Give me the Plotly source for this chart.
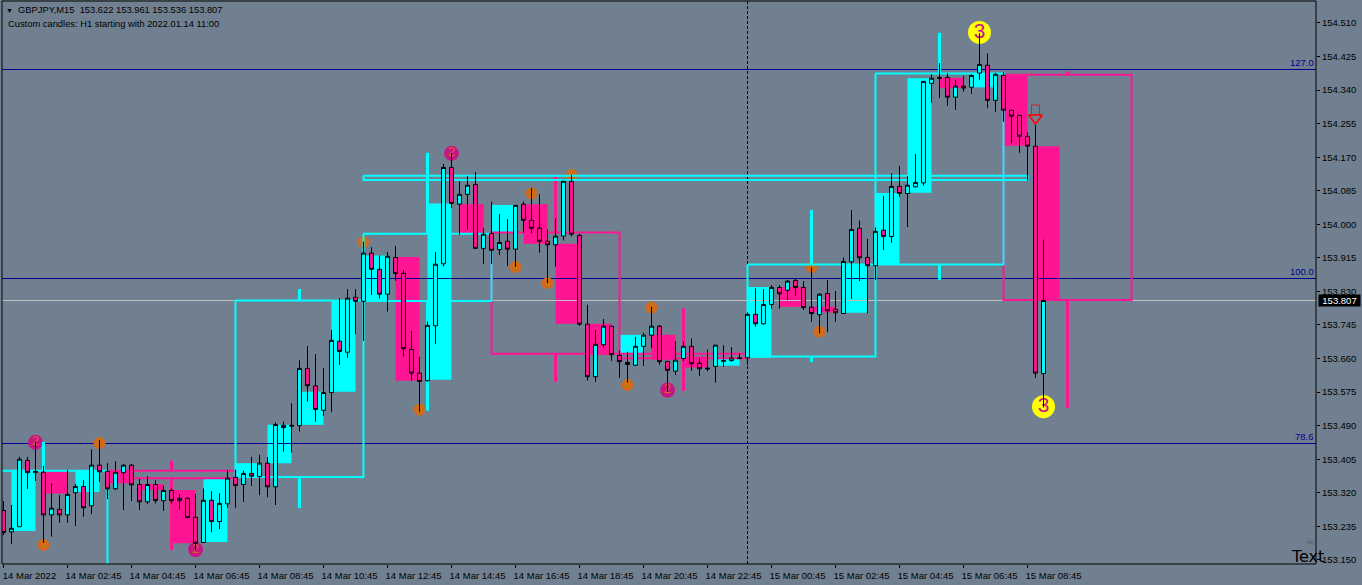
import plotly.graph_objects as go

# ---- M15 candles (GBPJPY) ----
bar_index = list(range(131))
opens = [153.275,153.221,153.234,153.402,153.374,153.372,153.264,153.278,153.264,153.320,153.336,153.287,153.390,153.374,153.330,153.371,153.390,153.341,153.297,153.341,
 153.300,153.326,153.300,153.306,153.258,153.194,153.301,153.247,153.292,153.359,153.341,153.369,153.361,153.395,153.335,153.491,153.491,153.490,153.635,153.591,
 153.529,153.574,153.704,153.676,153.815,153.805,153.927,153.886,153.823,153.916,153.876,153.683,153.623,153.604,153.743,153.900,154.144,154.051,154.076,154.101,
 153.939,153.977,153.936,153.957,153.937,154.051,154.010,153.990,153.957,153.948,153.970,154.109,153.972,153.747,153.614,153.695,153.742,153.668,153.650,153.643,
 153.691,153.719,153.742,153.653,153.628,153.660,153.691,153.648,153.636,153.640,153.655,153.655,153.662,153.662,153.772,153.748,153.797,153.840,153.833,153.858,
 153.840,153.790,153.771,153.825,153.785,153.774,153.905,153.990,153.916,153.895,153.985,153.969,154.096,154.078,154.095,154.105,154.357,154.372,154.372,154.322,
 154.350,154.347,154.383,154.403,154.314,154.377,154.289,154.276,154.223,154.198,153.622]
highs = [153.299,153.289,153.411,153.411,153.449,153.388,153.344,153.314,153.378,153.342,153.352,153.430,153.454,153.395,153.400,153.393,153.393,153.355,153.362,153.352,
 153.338,153.331,153.316,153.309,153.317,153.331,153.324,153.319,153.378,153.378,153.376,153.411,153.416,153.410,153.498,153.500,153.547,153.656,153.692,153.671,
 153.636,153.732,153.813,153.836,153.836,153.956,153.942,153.921,153.930,153.945,153.884,153.730,153.664,153.754,153.930,154.153,154.180,154.109,154.122,154.132,
 153.990,154.057,154.026,154.013,154.048,154.058,154.092,154.076,153.987,154.015,154.109,154.125,153.976,153.796,153.732,153.760,153.743,153.680,153.677,153.715,
 153.725,153.791,153.745,153.653,153.704,153.703,153.711,153.661,153.683,153.694,153.694,153.689,153.674,153.777,153.838,153.836,153.846,153.846,153.859,153.862,
 153.856,153.891,153.825,153.859,153.831,153.916,154.036,154.010,153.963,153.992,154.072,154.129,154.148,154.122,154.178,154.362,154.380,154.408,154.383,154.366,
 154.376,154.380,154.484,154.433,154.383,154.385,154.289,154.276,154.233,154.256,153.961]
lows = [153.213,153.190,153.234,153.330,153.350,153.193,153.209,153.244,153.244,153.236,153.259,153.266,153.348,153.304,153.328,153.276,153.299,153.276,153.292,153.293,
 153.274,153.292,153.278,153.257,153.175,153.194,153.220,153.228,153.282,153.282,153.297,153.337,153.314,153.309,153.289,153.424,153.422,153.475,153.551,153.500,
 153.515,153.525,153.644,153.662,153.722,153.705,153.821,153.812,153.779,153.857,153.665,153.604,153.525,153.601,153.697,153.893,154.041,153.973,153.987,153.938,
 153.899,153.899,153.922,153.894,153.892,153.979,153.978,153.928,153.851,153.893,153.959,153.969,153.743,153.604,153.601,153.687,153.654,153.611,153.599,153.641,
 153.641,153.687,153.644,153.576,153.618,153.654,153.629,153.616,153.628,153.599,153.639,153.652,153.659,153.644,153.741,153.746,153.786,153.786,153.808,153.818,
 153.783,153.753,153.724,153.727,153.753,153.774,153.811,153.856,153.775,153.859,153.935,153.953,154.070,153.993,154.093,154.098,154.308,154.320,154.300,154.290,
 154.336,154.330,154.366,154.295,154.285,154.260,154.205,154.181,154.111,153.611,153.536]
closes = [153.219,153.230,153.405,153.371,153.372,153.264,153.281,153.264,153.316,153.336,153.282,153.390,153.373,153.330,153.372,153.390,153.340,153.297,153.341,153.300,
 153.326,153.300,153.306,153.257,153.192,153.301,153.247,153.293,153.357,153.338,153.369,153.362,153.395,153.335,153.493,153.485,153.489,153.635,153.591,153.531,
 153.574,153.706,153.678,153.813,153.805,153.927,153.886,153.823,153.919,153.875,153.685,153.623,153.602,153.744,153.899,154.144,154.053,154.076,154.099,153.939,
 153.975,153.934,153.954,153.937,154.048,154.010,153.990,153.957,153.948,153.970,154.109,153.975,153.747,153.614,153.696,153.742,153.670,153.652,153.645,153.691,
 153.719,153.742,153.652,153.630,153.656,153.691,153.647,153.634,153.634,153.694,153.653,153.661,153.660,153.772,153.748,153.797,153.840,153.824,153.856,153.840,
 153.789,153.774,153.823,153.781,153.776,153.906,153.987,153.915,153.895,153.982,153.969,154.096,154.078,154.099,154.106,154.362,154.370,154.370,154.322,154.350,
 154.345,154.377,154.405,154.314,154.380,154.289,154.274,154.223,154.198,153.623,153.807]

# ---- H1 custom candle bodies ----
h1_center = [2.5,6.5,10.5,14.5,18.5,22.5,26.5,30.5,34.5,38.5,42.5,46.5,50.5,54.5,58.5,62.5,66.5,70.5,74.5,78.5,82.5,86.5,90.5,94.5,98.5,102.5,106.5,110.5,114.5,118.5,122.5,126.5,130.5]
h1_open = [153.223,153.373,153.322,153.377,153.342,153.327,153.195,153.358,153.395,153.492,153.576,153.804,153.917,153.606,154.051,153.980,154.051,153.951,153.748,153.672,153.720,153.665,153.642,153.662,153.841,153.791,153.776,153.897,154.080,154.371,154.347,154.381,154.198]
h1_close = [153.378,153.318,153.377,153.344,153.327,153.192,153.355,153.395,153.492,153.576,153.808,153.921,153.604,154.053,153.977,154.049,153.951,153.748,153.670,153.720,153.657,153.637,153.659,153.841,153.791,153.777,153.899,154.079,154.370,154.345,154.383,154.199,153.808]

# ---- H4 custom candles (outlined boxes with thick wicks), pink ones first so cyan lies on top ----
h4_start = [13,61,77,125,-3,29,45,93,109]
h4_end = [29,77,93,141,13,45,61,109,125]
h4_top = [153.376,153.979,153.672,154.379,153.376,153.807,153.976,153.898,154.382]
h4_bottom = [153.357,153.672,153.661,153.808,153.000,153.360,153.806,153.665,153.898]
h4_high = [153.401,154.120,153.787,154.387,153.449,153.836,154.181,154.036,154.485]
h4_low = [153.175,153.601,153.578,153.535,153.000,153.281,153.528,153.651,153.859]
h4_color = ["pink","pink","pink","pink","cyan","cyan","cyan","cyan","cyan"]

# narrow cyan box near 154.12
band_x = [45,128]
band_top = 154.123
band_bottom = 154.112

# ---- horizontal levels ----
level_names = ["127.0","100.0","78.6"]
level_values = [154.3921,153.8627,153.4448]
bid = 153.807
separator_index = 93

# ---- numbered swing markers ----
orange_x = [5,12,45,52,64,66,68,71,78,81,101,102]
orange_y = [153.188,153.446,153.955,153.530,153.892,154.078,153.851,154.125,153.593,153.789,153.892,153.728]
orange_t = ["1","1","0","0","0","1","0","0","0","1","0","1"]
magenta_x = [4,24,56,83]
magenta_y = [153.448,153.176,154.180,153.580]
yellow_x = [122,130]
yellow_y = [154.486,153.538]
arrow_x = [129]
arrow_head_y = [154.2692]
arrow_stem_top = 154.3022
arrow_stem_bottom = 154.2768

# ---- axis labels ----
x_tick_vals = [0,8,16,24,32,40,48,56,64,72,80,88,96,104,112,120,128]
x_tick_text = ["14 Mar 2022","14 Mar 02:45","14 Mar 04:45","14 Mar 06:45","14 Mar 08:45","14 Mar 10:45","14 Mar 12:45","14 Mar 14:45","14 Mar 16:45","14 Mar 18:45","14 Mar 20:45","14 Mar 22:45","15 Mar 00:45","15 Mar 02:45","15 Mar 04:45","15 Mar 06:45","15 Mar 08:45"]
y_tick_vals = [154.510,154.425,154.340,154.255,154.170,154.085,154.000,153.915,153.830,153.745,153.660,153.575,153.490,153.405,153.320,153.235,153.150]

BG = "#708090"
CYAN = "#00FFFF"
PINK = "#FF1493"
NAVY = "#00008B"
FONT = "Liberation Sans"
SIZE = 9.5
HEAD = 9.35
PLOT_W, PLOT_H = 1314.0, 563.0
X0, X1 = -0.1875, 164.0625
Y0, Y1 = 153.139573, 154.565612

fig = go.Figure()

# H1 bodies
fig.add_trace(go.Bar(
    x=h1_center, y=[c - o for o, c in zip(h1_open, h1_close)], base=h1_open, width=3,
    marker=dict(color=[CYAN if c >= o else PINK for o, c in zip(h1_open, h1_close)], line=dict(width=0)),
    hoverinfo="skip", zorder=0))

# levels
for v in level_values:
    fig.add_trace(go.Scatter(x=[X0, X1], y=[v, v], mode="lines", line=dict(color=NAVY, width=1), hoverinfo="skip", zorder=1))
fig.add_trace(go.Scatter(x=[X0, X1], y=[bid, bid], mode="lines", line=dict(color="#C0C0C0", width=1), hoverinfo="skip", zorder=1))
fig.add_trace(go.Scatter(x=[separator_index, separator_index], y=[Y0, Y1], mode="lines",
                         line=dict(color="black", width=1, dash="3px,2px"), hoverinfo="skip", zorder=1))

# markers
fig.add_trace(go.Scatter(x=orange_x, y=orange_y, mode="markers+text", text=orange_t, textposition="middle center",
                         marker=dict(color="#D2691E", size=12), textfont=dict(color="#B8860B", size=10, family=FONT), hoverinfo="skip", zorder=2))
fig.add_trace(go.Scatter(x=magenta_x, y=magenta_y, mode="markers+text", text=["2"] * len(magenta_x), textposition="middle center",
                         marker=dict(color="#C71585", size=15), textfont=dict(color="#D2691E", size=13, family=FONT), hoverinfo="skip", zorder=2))
fig.add_trace(go.Scatter(x=yellow_x, y=yellow_y, mode="markers+text", text=["3"] * len(yellow_x), textposition="middle center",
                         marker=dict(color="#FFFF00", size=23), textfont=dict(color="#C71585", size=21, family=FONT), hoverinfo="skip", zorder=2))

# H4 boxes
for s, e, t, b, hi, lo, col in zip(h4_start, h4_end, h4_top, h4_bottom, h4_high, h4_low, h4_color):
    c = CYAN if col == "cyan" else PINK
    fig.add_trace(go.Scatter(x=[s, e, e, s, s], y=[t, t, b, b, t], mode="lines", line=dict(color=c, width=2), hoverinfo="skip", zorder=3))
    m = (s + e) / 2
    fig.add_trace(go.Scatter(x=[m, m, None, m, m], y=[t, hi, None, b, lo], mode="lines", line=dict(color=c, width=3), hoverinfo="skip", zorder=3))
fig.add_trace(go.Scatter(x=[band_x[0], band_x[1], band_x[1], band_x[0], band_x[0]],
                         y=[band_top, band_top, band_bottom, band_bottom, band_top],
                         mode="lines", line=dict(color=CYAN, width=2), hoverinfo="skip", zorder=3))

# M15 candles
fig.add_trace(go.Candlestick(
    x=bar_index, open=opens, high=highs, low=lows, close=closes, whiskerwidth=0,
    increasing=dict(fillcolor=CYAN, line=dict(color="black", width=1)),
    decreasing=dict(fillcolor=PINK, line=dict(color="black", width=1)),
    hoverinfo="skip", zorder=4))

# red arrow
ax = arrow_x[0]
fig.add_trace(go.Scatter(x=[ax - 0.5, ax + 0.5, ax + 0.5, ax - 0.5, ax - 0.5],
                         y=[arrow_stem_bottom, arrow_stem_bottom, arrow_stem_top, arrow_stem_top, arrow_stem_bottom],
                         mode="lines", line=dict(color="#CC2222", width=1), hoverinfo="skip", zorder=5))
fig.add_trace(go.Scatter(x=arrow_x, y=arrow_head_y, mode="markers",
                         marker=dict(symbol="triangle-down", size=12, color=BG, line=dict(color="#FF0000", width=1.5)),
                         hoverinfo="skip", zorder=5))

def px(x):
    return (x - 2) / PLOT_W
def py(y):
    return 1 - (y - 1) / PLOT_H

ann = []
def note(text, x, y, xa="left", ya="middle", color="black", size=HEAD, family=FONT, **kw):
    ann.append(dict(text=text, xref="paper", yref="paper", x=px(x), y=py(y), xanchor=xa, yanchor=ya, showarrow=False,
                    font=dict(color=color, size=size, family=family), borderpad=0, **kw))

note("\u25bc", 5, 10, size=7)
note("GBPJPY,M15  153.622 153.961 153.536 153.807", 17, 10)
note("Custom candles: H1 starting with 2022.01.14 11:00", 7, 24)
for name, v, yy in zip(level_names, level_values, [69.5, 278.5, 443.5]):
    note(name, 1315, yy - 1, xa="right", ya="bottom", color=NAVY, size=SIZE)
note("153.807", 1318, 300.5, color="white", bgcolor="black", width=41, height=11, align="center", size=SIZE)
note("Text", 1290, 556, size=16, color="black", family="DejaVu Sans")
note("\u2620", 1305, 541.5, size=9, color="#5c5c5c", family="DejaVu Sans")

fig.update_layout(
    width=1362, height=585, margin=dict(l=2, r=46, t=1, b=21, pad=0),
    paper_bgcolor=BG, plot_bgcolor=BG, showlegend=False, barmode="overlay", boxgap=0.3,
    font=dict(family=FONT, size=SIZE, color="black"),
    annotations=ann, hovermode=False,
    shapes=[dict(type="rect", xref="paper", yref="paper", x0=0, x1=1, y0=0, y1=1, line=dict(color="black", width=1), layer="above")],
    xaxis=dict(range=[X0, X1], tickmode="array", tickvals=x_tick_vals, ticktext=x_tick_text, ticks="outside", ticklen=3, tickwidth=1,
               tickcolor="black", showgrid=False, zeroline=False, showline=True, linecolor="black", linewidth=1, mirror=True,
               rangeslider=dict(visible=False), ticklabelshift=26, tickangle=0, tickfont=dict(family=FONT, size=SIZE, color="black")),
    yaxis=dict(range=[Y0, Y1], side="right", tickmode="array", tickvals=y_tick_vals, ticktext=[f"{v:.3f}" for v in y_tick_vals],
               ticks="outside", ticklen=3, tickwidth=1, tickcolor="black", showgrid=False, zeroline=False, showline=True,
               linecolor="black", linewidth=1, mirror=True, tickfont=dict(family=FONT, size=SIZE, color="black")),
)

fig.write_html("out.html", config=dict(displayModeBar=False),
               post_script="document.body.style.margin='0';document.body.style.overflow='hidden';")
